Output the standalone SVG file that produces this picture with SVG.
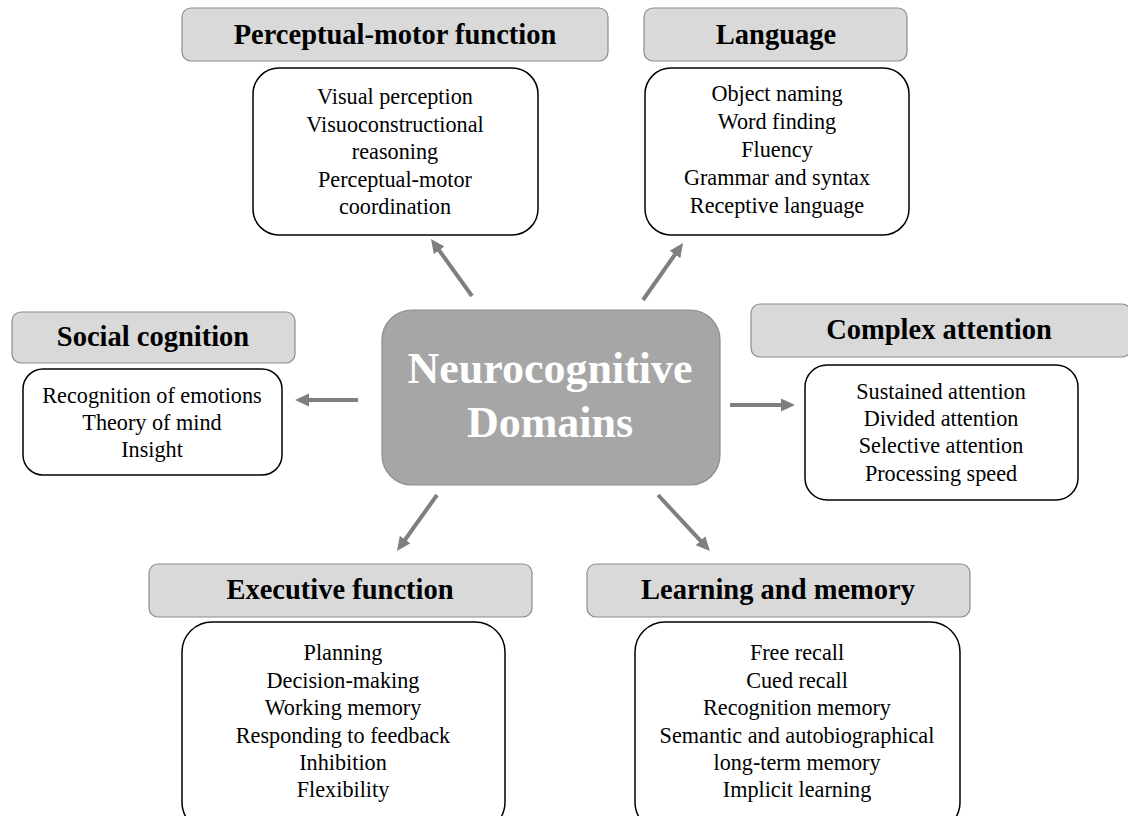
<svg xmlns="http://www.w3.org/2000/svg" width="1128" height="816" viewBox="0 0 1128 816">
<style>
.hdr{fill:#d9d9d9;stroke:#8c8c8c;stroke-width:1.2}
.box{fill:#ffffff;stroke:#000000;stroke-width:1.5}
.ht{font-family:"Liberation Serif",serif;font-weight:bold;font-size:28.5px;fill:#000;text-anchor:middle}
.bt{font-family:"Liberation Serif",serif;font-size:22.2px;fill:#000;text-anchor:middle}
.ct{font-family:"Liberation Serif",serif;font-weight:bold;font-size:44px;fill:#fff;text-anchor:middle}
.arr{stroke:#7f7f7f;stroke-width:4;fill:none;marker-end:url(#ah)}
</style>
<defs>
<marker id="ah" markerUnits="userSpaceOnUse" markerWidth="16" markerHeight="14" refX="3" refY="7" orient="auto" viewBox="0 0 16 14">
<path d="M0,0.5 L14,7 L0,13.5 z" fill="#7f7f7f"/>
</marker>
</defs>
<rect width="1128" height="816" fill="#fff"/>
<g id="connectors">
<line class="arr" x1="472" y1="296" x2="437.4" y2="247.9"/>
<line class="arr" x1="643" y1="300" x2="676.7" y2="252"/>
<line class="arr" x1="358" y1="400" x2="306" y2="400"/>
<line class="arr" x1="730" y1="405" x2="784" y2="405"/>
<line class="arr" x1="437" y1="495" x2="403.4" y2="542"/>
<line class="arr" x1="658" y1="495" x2="702.5" y2="542.9"/>
</g>
<g id="center">
<rect x="382" y="310" width="338" height="175" rx="30" fill="#a6a6a6" stroke="#8c8c8c" stroke-width="1.2"/>
<text class="ct" x="550" y="383">Neurocognitive</text>
<text class="ct" x="550" y="437">Domains</text>
</g>
<g id="perceptual-motor">
<rect class="hdr" x="182" y="8" width="426" height="53" rx="9"/>
<text class="ht" x="395" y="44">Perceptual-motor function</text>
<rect class="box" x="253" y="68" width="285" height="167" rx="26"/>
<text class="bt" x="395" y="104">Visual perception</text>
<text class="bt" x="395" y="131.5">Visuoconstructional</text>
<text class="bt" x="395" y="159">reasoning</text>
<text class="bt" x="395" y="186.5">Perceptual-motor</text>
<text class="bt" x="395" y="214">coordination</text>
</g>
<g id="language">
<rect class="hdr" x="644" y="8" width="263" height="53" rx="9"/>
<text class="ht" x="776" y="44">Language</text>
<rect class="box" x="645" y="68" width="264" height="167" rx="26"/>
<text class="bt" x="777" y="101">Object naming</text>
<text class="bt" x="777" y="129">Word finding</text>
<text class="bt" x="777" y="157">Fluency</text>
<text class="bt" x="777" y="185">Grammar and syntax</text>
<text class="bt" x="777" y="213">Receptive language</text>
</g>
<g id="social-cognition">
<rect class="hdr" x="12" y="312" width="283" height="51" rx="9"/>
<text class="ht" x="153" y="346">Social cognition</text>
<rect class="box" x="23" y="369" width="259" height="106" rx="20"/>
<text class="bt" x="152" y="403">Recognition of emotions</text>
<text class="bt" x="152" y="430">Theory of mind</text>
<text class="bt" x="152" y="457">Insight</text>
</g>
<g id="complex-attention">
<rect class="hdr" x="751" y="304" width="380" height="53" rx="9"/>
<text class="ht" x="939" y="339">Complex attention</text>
<rect class="box" x="805" y="365" width="273" height="135" rx="22"/>
<text class="bt" x="941" y="399">Sustained attention</text>
<text class="bt" x="941" y="426">Divided attention</text>
<text class="bt" x="941" y="453">Selective attention</text>
<text class="bt" x="941" y="481">Processing speed</text>
</g>
<g id="executive-function">
<rect class="hdr" x="149" y="564" width="383" height="53" rx="9"/>
<text class="ht" x="340" y="599">Executive function</text>
<rect class="box" x="182" y="622" width="323" height="210" rx="30"/>
<text class="bt" x="343" y="660">Planning</text>
<text class="bt" x="343" y="688">Decision-making</text>
<text class="bt" x="343" y="715">Working memory</text>
<text class="bt" x="343" y="743">Responding to feedback</text>
<text class="bt" x="343" y="770">Inhibition</text>
<text class="bt" x="343" y="797">Flexibility</text>
</g>
<g id="learning-memory">
<rect class="hdr" x="587" y="564" width="383" height="53" rx="9"/>
<text class="ht" x="778" y="599">Learning and memory</text>
<rect class="box" x="635" y="622" width="325" height="210" rx="30"/>
<text class="bt" x="797" y="660">Free recall</text>
<text class="bt" x="797" y="688">Cued recall</text>
<text class="bt" x="797" y="715">Recognition memory</text>
<text class="bt" x="797" y="743">Semantic and autobiographical</text>
<text class="bt" x="797" y="770">long-term memory</text>
<text class="bt" x="797" y="797">Implicit learning</text>
</g>
</svg>
